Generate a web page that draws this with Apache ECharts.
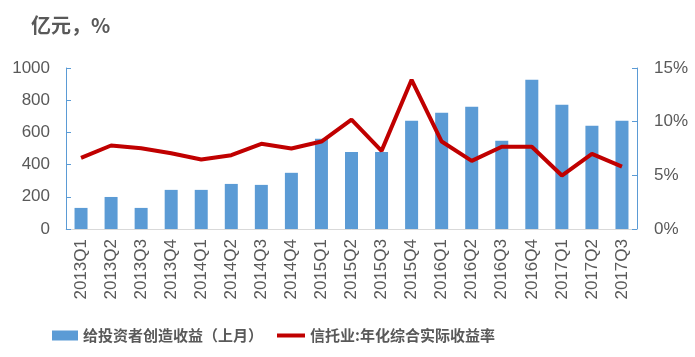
<!DOCTYPE html>
<html><head><meta charset="utf-8">
<script src="https://cdn.jsdelivr.net/npm/echarts@6/dist/echarts.min.js"></script>
<style>html,body{margin:0;padding:0;background:#fff}#c{width:695px;height:357px}</style>
</head><body><div id="c"></div>
<script>
var categories = ['2013Q1','2013Q2','2013Q3','2013Q4','2014Q1','2014Q2','2014Q3','2014Q4','2015Q1','2015Q2','2015Q3','2015Q4','2016Q1','2016Q2','2016Q3','2016Q4','2017Q1','2017Q2','2017Q3'];
var barValues = [131,199,131,243,243,280,274,349,560,479,479,672,722,759,548,927,772,641,672];
var lineValues = [6.63,7.78,7.53,7.06,6.47,6.88,7.94,7.50,8.15,10.18,7.28,13.9,8.15,6.35,7.66,7.66,4.98,7.0,5.82];
var barName = '给投资者创造收益（上月）';
var lineName = '信托业:年化综合实际收益率';
var chart = echarts.init(document.getElementById('c'));
var font = "'Noto Sans CJK SC', sans-serif";
var legendText = {fontFamily: font, fontSize: 15, fontWeight: 'bold', color: '#595959'};
chart.setOption({
  animation: false,
  textStyle: {fontFamily: font},
  title: {text: '亿元，%', left: 26, top: 10, textStyle: {fontFamily: font, fontSize: 20, fontWeight: 'bold', color: '#595959'}},
  grid: {left: 66, right: 58, top: 68, bottom: 128},
  legend: [
    {left: 47, top: 323, itemWidth: 26, itemHeight: 10, itemGap: 4, textStyle: legendText,
     data: [{name: barName, icon: 'rect'}]},
    {left: 272, top: 323, itemWidth: 28, itemHeight: 4, itemGap: 4, textStyle: legendText,
     data: [{name: lineName, icon: 'rect'}]}
  ],
  xAxis: {
    type: 'category', data: categories,
    axisLine: {lineStyle: {color: '#D9D9D9', width: 1}},
    axisTick: {show: false},
    axisLabel: {rotate: 90, fontSize: 17, color: '#595959', fontFamily: 'Liberation Sans', margin: 10}
  },
  yAxis: [
    {type: 'value', min: 0, max: 1000, interval: 200,
     axisLine: {show: true, lineStyle: {color: '#5B9BD5'}},
     axisTick: {show: true, inside: true, length: 5, lineStyle: {color: '#5B9BD5'}},
     splitLine: {show: false},
     axisLabel: {fontSize: 17, color: '#595959', fontFamily: 'Liberation Sans', margin: 16, formatter: function (v) { return String(v); }}},
    {type: 'value', min: 0, max: 15, interval: 5,
     axisLine: {show: true, lineStyle: {color: '#5B9BD5'}},
     axisTick: {show: true, inside: true, length: 5, lineStyle: {color: '#5B9BD5'}},
     splitLine: {show: false},
     axisLabel: {fontSize: 17, color: '#595959', fontFamily: 'Liberation Sans', margin: 17, formatter: '{value}%'}}
  ],
  series: [
    {name: barName, type: 'bar', data: barValues, barWidth: 13, itemStyle: {color: '#5B9BD5'}},
    {name: lineName, type: 'line', yAxisIndex: 1, data: lineValues, symbol: 'none',
     lineStyle: {color: '#C00000', width: 4}, itemStyle: {color: '#C00000'}}
  ]
});
</script></body></html>
